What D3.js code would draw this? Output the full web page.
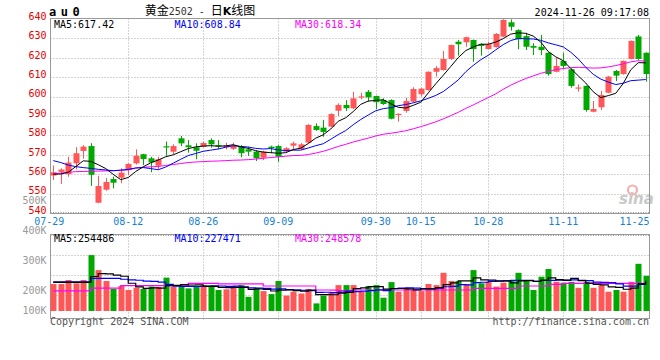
<!DOCTYPE html>
<html><head><meta charset="utf-8">
<script src="https://cdn.jsdelivr.net/npm/d3@7"></script>
<style>
body{margin:0;background:#fff;}
svg{display:block;font-family:"DejaVu Sans Mono","Liberation Mono",monospace;}
</style></head><body>
<svg id="c" width="660" height="360"></svg>
<script>
// ---------------- data ----------------
const dates = ["07-29","07-30","07-31","08-01","08-02","08-05","08-06","08-07","08-08","08-09",
"08-12","08-13","08-14","08-15","08-16","08-19","08-20","08-21","08-22","08-23",
"08-26","08-27","08-28","08-29","08-30","09-02","09-03","09-04","09-05","09-06",
"09-09","09-10","09-11","09-12","09-13","09-18","09-19","09-20","09-23","09-24",
"09-25","09-26","09-27","09-30","10-08","10-09","10-10","10-11","10-14","10-15",
"10-16","10-17","10-18","10-21","10-22","10-23","10-24","10-25","10-28","10-29",
"10-30","10-31","11-01","11-04","11-05","11-06","11-07","11-08","11-11","11-12",
"11-13","11-14","11-15","11-18","11-19","11-20","11-21","11-22","11-25","11-26"];

const open = [559.3,561.2,560.0,565.6,572.0,574.5,545.3,552.0,557.5,558.2,
562.2,565.6,570.3,568.2,564.4,574.4,571.6,578.5,574.9,573.9,
574.2,577.6,575.0,573.9,573.1,574.2,572.8,571.6,568.5,574.2,
574.5,571.6,574.7,573.0,576.3,584.8,584.0,584.5,592.7,595.7,
594.0,599.8,602.5,600.3,598.2,598.2,590.8,592.6,597.4,601.2,
603.4,612.8,613.7,619.4,628.3,628.0,629.2,627.0,624.5,625.5,
630.9,638.3,634.3,631.2,626.1,625.7,622.6,612.8,618.4,614.1,
604.4,605.5,592.2,594.5,602.0,613.2,611.6,619.4,631.0,622.6];
const high = [564.5,563.0,569.0,573.9,575.0,576.0,559.2,558.0,558.7,563.0,
565.6,572.8,570.5,569.0,569.0,576.8,575.4,579.7,577.6,575.9,
576.8,578.5,577.6,576.2,576.3,575.0,574.2,572.3,572.1,574.7,
575.0,574.0,576.8,576.0,585.8,586.2,588.0,591.4,596.5,598.2,
602.5,602.0,603.4,600.5,599.1,598.6,591.4,599.4,604.8,604.6,
613.0,615.8,623.5,626.8,629.2,630.9,629.4,627.5,628.3,632.7,
639.9,639.8,634.7,632.9,627.5,631.8,622.8,620.0,622.6,614.5,
606.3,605.7,597.7,602.9,610.6,613.7,618.6,628.9,631.8,622.8];
const low = [557.0,555.0,558.7,562.5,568.0,554.0,545.0,551.5,552.7,555.3,
559.6,565.0,564.7,561.0,562.5,569.5,570.4,574.5,571.1,567.7,
573.9,573.7,572.8,572.8,572.5,568.7,569.4,566.8,567.3,570.8,
566.4,571.0,572.5,572.5,575.9,582.4,579.3,584.3,590.0,592.6,
593.6,598.6,597.4,593.6,595.7,588.3,587.1,591.7,597.1,600.0,
603.0,610.3,613.4,618.9,621.1,625.7,618.0,621.1,624.3,625.3,
630.6,634.0,624.4,624.0,621.4,621.4,610.8,612.5,614.1,604.6,
602.5,592.2,591.9,593.1,601.7,608.0,611.3,619.2,618.9,607.7];
const close = [561.0,562.4,566.0,570.8,574.2,559.7,553.9,556.0,555.6,560.8,
565.3,569.5,567.8,566.1,567.7,574.0,574.5,575.9,573.9,572.1,
576.1,575.4,574.6,575.0,574.7,570.8,571.6,568.2,571.6,573.4,
569.0,573.4,575.9,575.4,585.4,582.8,581.8,591.0,595.7,594.0,
599.1,600.1,599.6,597.1,596.2,588.6,591.1,597.7,603.9,604.1,
612.8,614.7,619.4,626.6,627.0,630.6,624.5,626.1,627.0,632.3,
639.5,636.0,629.5,625.7,625.2,624.0,611.6,615.8,615.8,605.5,
604.7,593.1,593.6,600.8,610.3,610.8,618.4,628.7,619.4,611.6];

const ma5 = [560.0,560.1,561.0,563.9,566.9,566.6,564.9,562.9,559.9,557.2,
558.3,561.4,563.8,565.9,567.3,569.0,570.0,571.6,573.2,574.1,
574.5,574.7,574.4,574.6,575.2,574.1,573.3,572.1,571.4,571.1,
570.8,571.1,572.7,573.4,575.8,578.6,580.3,583.3,587.3,589.1,
592.3,596.0,597.7,598.0,598.4,596.3,594.5,594.1,595.5,597.1,
601.9,606.6,611.0,615.5,620.1,623.7,625.6,627.0,627.0,628.1,
629.9,632.2,632.9,632.6,631.2,628.1,623.2,620.5,618.5,614.5,
610.7,607.0,602.5,599.5,600.5,601.7,606.8,613.8,617.5,617.4];
const ma10 = [567.0,566.0,564.7,563.9,563.4,563.0,562.5,562.2,561.8,562.1,
562.5,563.2,563.4,562.9,562.3,563.7,565.7,567.7,569.6,570.7,
571.8,572.4,573.0,573.9,574.7,574.3,574.0,573.3,573.0,573.2,
572.5,572.2,572.4,572.4,573.5,574.7,575.7,578.0,580.4,582.5,
585.5,588.2,590.5,592.7,593.8,594.3,595.3,595.9,596.8,597.8,
599.1,600.6,602.6,605.5,608.6,612.8,616.1,619.0,621.3,624.1,
626.8,628.9,630.0,629.8,629.7,629.0,627.7,626.7,625.6,622.9,
619.4,615.1,611.5,609.0,607.5,606.2,606.9,608.2,608.5,608.8];
const ma30 = [560.3,560.6,561.0,561.3,561.4,561.5,561.6,561.7,561.8,562.0,
562.2,563.2,563.6,563.8,564.0,564.5,565.0,565.5,566.0,566.3,
566.5,566.7,566.8,567.0,567.2,567.3,567.5,567.8,568.2,568.6,
568.9,569.3,569.6,569.7,570.1,570.9,571.8,573.0,574.3,575.4,
576.6,577.6,578.6,579.7,580.6,581.1,581.7,582.4,583.4,584.5,
585.7,587.0,588.5,590.2,591.9,593.9,595.7,597.6,599.5,601.4,
603.8,605.9,607.7,609.3,610.7,612.0,613.0,613.9,614.5,614.9,
615.1,614.9,614.7,614.8,615.3,616.0,616.9,617.9,618.5,618.3];

const volume = [235600,235600,249000,238000,249000,332000,282000,245600,219000,229000,
215600,223000,219000,227000,226000,257000,226000,232000,221000,227000,
232000,226000,215600,218000,229000,232000,193000,223000,212000,202000,
245600,197000,210000,204000,219000,171000,197000,208000,232000,232000,
232000,210000,229000,232000,190000,242000,210000,223000,215600,212000,
235600,232000,273000,245600,245600,235600,282000,238000,243000,227000,
240000,249000,273000,245600,215600,260000,285600,243000,240000,243000,
223000,243000,223000,232000,210000,215600,210000,243000,303000,263000];
const vma5 = [241000,241000,241000,241000,241400,260700,270000,269300,265500,261500,
238200,226400,221100,222700,222100,230400,231000,233600,232400,232600,
227600,227600,224300,223700,224100,224100,217500,219000,217800,212400,
215100,215900,213300,211700,215100,200200,200200,199800,205400,208000,
220200,222800,227000,227000,218600,220600,220600,219400,216100,220500,
219200,223600,233600,239600,246400,246400,256400,249400,248800,245100,
246000,239400,246400,246900,244600,248600,256000,250000,248800,254300,
246900,238400,234400,232800,226200,224700,218100,222100,236300,246900];
const vma10 = [243000,243000,243000,243000,243000,254600,254600,254600,254600,251500,
249500,248200,245200,244100,241800,234300,228700,227400,227600,227400,
229000,229300,229000,228000,228400,225900,222600,221700,220800,218300,
219600,216700,216200,214800,213800,207700,208100,206600,208600,211600,
210200,211500,213400,216200,213300,220400,221700,223200,221600,219600,
219900,222100,226500,227900,233500,232800,240000,241500,244200,245800,
246200,247900,247900,247900,244900,247300,247700,248200,247900,249500,
247800,247200,242200,240800,240300,235800,228300,228300,234600,236600];
const vma30 = [213000,213000,213000,213000,213000,222000,222000,222000,222000,230000,
230000,230000,230000,230000,230000,230000,230000,230000,238000,238000,
238000,238000,236000,236000,236000,236000,236000,236000,229000,229000,
229000,229000,229000,229000,229000,215600,215600,215000,214000,214000,
215600,215600,215600,215600,215600,215600,215600,215600,215600,215600,
215600,215600,215600,215600,215600,215600,221000,221000,221000,221000,
221000,221000,229000,229000,229000,229000,234600,234600,238000,238000,
238000,238000,238000,238000,238000,238000,238000,238000,238000,238000];

const priceTicks = [540,550,560,570,580,590,600,610,620,630,640];
const volTicks = [100000,200000,300000,400000,500000];
const volTickLabels = ["100K","200K","300K","400K","500K"];
const dateLabels = ["07-29","08-12","08-26","09-09","09-30","10-15","10-28","11-11","11-25"];
const priceMA = [{name:"MA5",value:"617.42",data:ma5,color:"#000000"},
                 {name:"MA10",value:"608.84",data:ma10,color:"#0000ff"},
                 {name:"MA30",value:"618.34",data:ma30,color:"#ff00ff"}];
const volMA = [{name:"MA5",value:"254486",data:vma5,color:"#000000"},
               {name:"MA10",value:"227471",data:vma10,color:"#0000ff"},
               {name:"MA30",value:"248578",data:vma30,color:"#ff00ff"}];
const UP = "#ff5757", DOWN = "#00a800";

// ---------------- layout ----------------
const svg = d3.select("#c");
const L = 50.5, R = 649.5, PT = 18.5, PB = 213.5, VT = 234.5, VB = 318.5, VBASE = 311;
const x = d3.scaleBand().domain(dates).range([49.5, 649.5]).paddingInner(0.24).paddingOuter(0.12);
const bw = x.bandwidth();
const cx = d => x(d) + bw / 2;
const y = d3.scaleLinear().domain([540, 640]).range([213, 19]);
const yv = d3.scaleLinear().domain([0, 400000]).range([354.7, 234.7]);

const grid = svg.append("g").attr("stroke", "#aaaaaa").attr("stroke-dasharray", "1,2").attr("fill", "none");
grid.selectAll(".hp").data(priceTicks.filter(v => v > 540 && v < 640)).join("line")
  .attr("x1", L).attr("x2", R).attr("y1", d => Math.round(y(d)) + 0.5).attr("y2", d => Math.round(y(d)) + 0.5);
const vDates = dateLabels.slice(1, -1);
grid.selectAll(".vp").data(vDates).join("line")
  .attr("x1", d => Math.round(cx(d)) + 0.5).attr("x2", d => Math.round(cx(d)) + 0.5)
  .attr("y1", PT).attr("y2", PB);
grid.selectAll(".vv").data(vDates).join("line")
  .attr("x1", d => Math.round(cx(d)) + 0.5).attr("x2", d => Math.round(cx(d)) + 0.5)
  .attr("y1", VT).attr("y2", VB + 2);
grid.selectAll(".hv").data([1, 2, 3]).join("line")
  .attr("x1", L).attr("x2", R).attr("y1", k => 235 + k * 20 + 0.5).attr("y2", k => 235 + k * 20 + 0.5);

// watermark
const wm = svg.append("g");
wm.append("circle").attr("cx", 632.5).attr("cy", 190).attr("r", 4.5).attr("fill", "none").attr("stroke", "#f5b0b0").attr("stroke-width", 2.2);
wm.append("text").attr("x", 619).attr("y", 204).attr("font-family", "DejaVu Sans").attr("font-style", "italic")
  .attr("font-weight", "bold").attr("font-size", 15).attr("fill", "#c9c9c9").text("sina");

// frames
const fr = svg.append("g").attr("fill", "none").attr("stroke", "#999999");
fr.append("rect").attr("x", L).attr("y", PT).attr("width", R - L).attr("height", PB - PT);
fr.append("line").attr("x1", L).attr("x2", R).attr("y1", 212.5).attr("y2", 212.5).attr("stroke-dasharray", "1,1.5");
fr.append("rect").attr("x", L).attr("y", VT).attr("width", R - L).attr("height", VB - VT);
fr.append("line").attr("x1", L).attr("x2", R).attr("y1", 235.5).attr("y2", 235.5).attr("stroke-dasharray", "1,1.5");

// candles
const cg = svg.append("g");
const idx = d3.range(dates.length);
const col = i => close[i] >= open[i] ? UP : DOWN;
cg.selectAll(".wick").data(idx).join("line")
  .attr("x1", i => Math.round(cx(dates[i])) + 0.5).attr("x2", i => Math.round(cx(dates[i])) + 0.5)
  .attr("y1", i => y(high[i])).attr("y2", i => y(low[i]))
  .attr("stroke", col).attr("stroke-width", 1);
cg.selectAll(".body").data(idx).join("rect")
  .attr("x", i => Math.round(cx(dates[i])) + 0.5 - 3).attr("width", 6)
  .attr("y", i => y(Math.max(open[i], close[i])))
  .attr("height", i => Math.max(1.2, Math.abs(y(open[i]) - y(close[i]))))
  .attr("fill", col);

// volume bars
svg.append("g").selectAll("rect").data(idx).join("rect")
  .attr("x", i => Math.round(cx(dates[i])) + 0.5 - 3).attr("width", 6)
  .attr("y", i => yv(volume[i])).attr("height", i => VBASE - yv(volume[i]))
  .attr("fill", col);

// MA lines
const lp = d3.line().x((d, i) => cx(dates[i])).y(d => y(d));
const lv = d3.line().x((d, i) => cx(dates[i])).y(d => yv(d)).curve(d3.curveStepAfter);
priceMA.slice().reverse().forEach(m => svg.append("path").attr("d", lp(m.data)).attr("fill", "none").attr("stroke", m.color).attr("stroke-width", 1));
volMA.slice().reverse().forEach(m => svg.append("path").attr("d", lv(m.data)).attr("fill", "none").attr("stroke", m.color).attr("stroke-width", 1.2));

// price axis
const ay = svg.append("g").attr("transform", "translate(46.5,-3)")
  .call(d3.axisLeft(y).tickValues(priceTicks).tickSize(0).tickPadding(0).tickFormat(d3.format("d")));
ay.select(".domain").remove();
ay.selectAll("text").attr("fill", "#e60000").attr("font-size", 10).attr("font-family", "DejaVu Sans Mono");

// volume axis
const avl = svg.append("g").attr("transform", "translate(46.5,-4)")
  .call(d3.axisLeft(yv).tickValues(volTicks).tickSize(0).tickPadding(0).tickFormat((d, i) => volTickLabels[i]));
avl.select(".domain").remove();
avl.selectAll(".tick").attr("transform", d => `translate(0,${Math.min(yv(d), 314.3)})`);
avl.selectAll("text").attr("fill", "#999999").attr("font-size", 10).attr("font-family", "DejaVu Sans Mono");

// date axis
const ax = svg.append("g").attr("transform", "translate(0,217.5)")
  .call(d3.axisBottom(x).tickValues(dateLabels).tickSize(0).tickPadding(0));
ax.select(".domain").remove();
ax.selectAll("text").attr("fill", "#1782d2").attr("font-size", 10).attr("font-family", "DejaVu Sans Mono");
ax.selectAll(".tick").filter(d => d === "07-29").select("text").attr("x", -4);
ax.selectAll(".tick").filter(d => d === "11-25").select("text").attr("text-anchor", "end").attr("x", d => 649.5 - cx(d));

// header
const t = svg.append("g").attr("font-size", 10);
t.append("text").attr("x", 49).attr("y", 15.5).attr("font-weight", "bold").attr("font-size", 12)
  .attr("letter-spacing", 4.5).text("au0");
const title = t.append("text").attr("x", 200).attr("y", 14.5).attr("text-anchor", "middle");
title.append("tspan").attr("font-family", "Noto Sans CJK SC").attr("font-size", 12).text("黄金");
title.append("tspan").attr("fill", "#333").attr("font-size", 10).text("2502 - ");
title.append("tspan").attr("font-family", "Noto Sans CJK SC").attr("font-size", 12).text("日");
title.append("tspan").attr("font-family", "DejaVu Sans").attr("font-weight", "bold").attr("font-size", 11).text("K");
title.append("tspan").attr("font-family", "Noto Sans CJK SC").attr("font-size", 12).text("线图");
t.append("text").attr("x", 649).attr("y", 15.5).attr("text-anchor", "end").text("2024-11-26 09:17:08");

const maX = [54, 174.5, 295];
t.selectAll(".pm").data(priceMA).join("text").attr("x", (d, i) => maX[i]).attr("y", 27.5)
  .attr("fill", d => d.color).text(d => `${d.name}:${d.value}`);
t.selectAll(".vm").data(volMA).join("text").attr("x", (d, i) => maX[i]).attr("y", 242)
  .attr("fill", d => d.color).text(d => `${d.name}:${d.value}`);

t.append("text").attr("x", 50).attr("y", 325).attr("fill", "#555").text("Copyright 2024 SINA.COM");
t.append("text").attr("x", 649).attr("y", 325).attr("text-anchor", "end").attr("fill", "#555").text("http://finance.sina.com.cn");
</script>
</body></html>
